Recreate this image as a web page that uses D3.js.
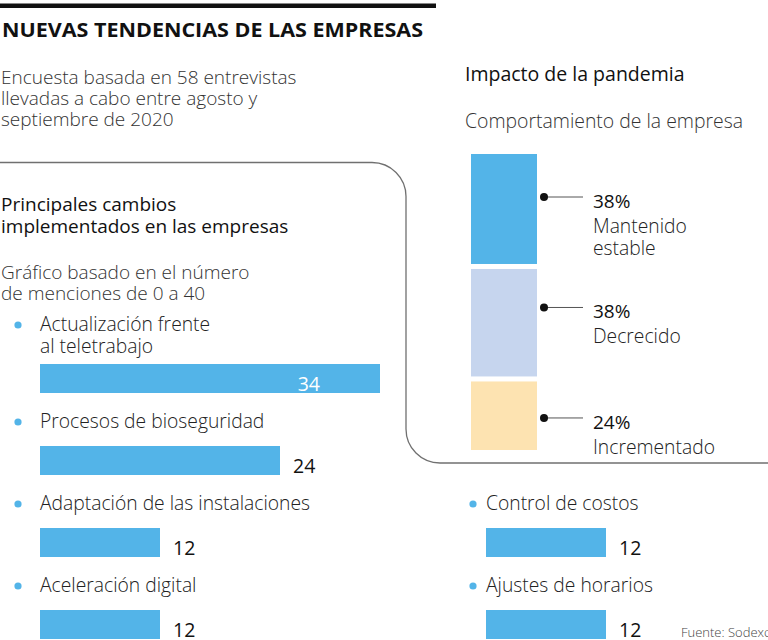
<!DOCTYPE html>
<html>
<head>
<meta charset="utf-8">
<style>
  body { margin: 0; background: #fff; }
  svg { display: block; font-family: "Open Sans", sans-serif; }
</style>
</head>
<body>
<div id="container"></div>
<script src="https://cdn.jsdelivr.net/npm/d3@7"></script>
<script>
// Principales cambios implementados (número de menciones, 0 a 40)
const cambios = [
  "Actualización frente\nal teletrabajo",
  "Procesos de bioseguridad",
  "Adaptación de las instalaciones",
  "Aceleración digital",
  "Control de costos",
  "Ajustes de horarios"
];
const menciones = [34, 24, 12, 12, 12, 12];

// Impacto de la pandemia: comportamiento de la empresa (%)
const comportamiento = ["Mantenido\nestable", "Decrecido", "Incrementado"];
const porcentajes = [38, 38, 24];
const coloresComp = ["#53b4e8", "#c6d5ee", "#fde3b1"];

const blue = "#53b4e8";
const ink = "#1a1a1a";

const svg = d3.select("#container")
  .append("svg")
  .attr("width", 768)
  .attr("height", 640);

// top rule + title
svg.append("rect")
  .attr("x", 0).attr("y", 3.5)
  .attr("width", 436).attr("height", 4.5)
  .attr("fill", "#111");

svg.append("text")
  .attr("x", 2).attr("y", 37)
  .attr("font-size", 20).attr("font-weight", 700)
  .attr("fill", "#111")
  .attr("textLength", 421).attr("lengthAdjust", "spacingAndGlyphs")
  .text("NUEVAS TENDENCIAS DE LAS EMPRESAS");

// helper for multi line text
function lines(g, str, x, y, lh, opts) {
  const t = g.append("text")
    .attr("x", x).attr("y", y)
    .attr("font-size", opts.size || 19)
    .attr("font-weight", opts.weight || 300)
    .attr("fill", opts.fill || ink);
  str.split("\n").forEach((s, i) => {
    t.append("tspan").attr("x", x).attr("dy", i ? lh : 0).text(s);
  });
  return t;
}

lines(svg, "Encuesta basada en 58 entrevistas\nllevadas a cabo entre agosto y\nseptiembre de 2020",
  1, 84, 21, { size: 19, weight: 300, fill: "#333" });

// frame line
svg.append("path")
  .attr("d", "M0,162.5 H372 A34,34 0 0 1 406,196.5 V429 A34,34 0 0 0 440,463 H768")
  .attr("fill", "none")
  .attr("stroke", "#707070")
  .attr("stroke-width", 1.3);

// left section heading
lines(svg, "Principales cambios\nimplementados en las empresas", 1, 211, 21.5, { size: 19, weight: 400, fill: "#111" });
lines(svg, "Gráfico basado en el número\nde menciones de 0 a 40", 1, 279, 20.5, { size: 19, weight: 300, fill: "#333" });

// bars
const x = d3.scaleLinear().domain([0, 40]).range([0, 400]);
const rowY = d3.scaleLinear().domain([0, 3]).range([364, 610]);
const colX = [40, 486];
const barH = 29;

const items = cambios.map((c, i) => ({
  label: c,
  value: menciones[i],
  col: i < 4 ? 0 : 1,
  row: i < 4 ? i : i - 2
}));

const item = svg.append("g").selectAll("g")
  .data(items)
  .join("g");

item.append("rect")
  .attr("x", d => colX[d.col])
  .attr("y", d => rowY(d.row))
  .attr("width", d => x(d.value))
  .attr("height", barH)
  .attr("fill", blue);

item.each(function(d) {
  const g = d3.select(this);
  const parts = d.label.split("\n");
  const last = rowY(d.row) - (parts.length > 1 ? 11 : 18);
  const first = last - 22 * (parts.length - 1);
  lines(g, d.label, colX[d.col], first, 22, { size: 19.3, weight: 300, fill: "#222" });
  g.append("circle")
    .attr("cx", colX[d.col] - 22 + (d.col ? 9 : 0))
    .attr("cy", first - 6)
    .attr("r", 3.6)
    .attr("fill", blue);

  const end = colX[d.col] + x(d.value);
  const inside = d.value === d3.max(menciones);
  g.append("text")
    .attr("x", inside ? end - 60 : end + 13)
    .attr("y", rowY(d.row) + 27)
    .attr("text-anchor", inside ? "end" : "start")
    .attr("font-size", 19.5)
    .attr("font-weight", 400)
    .attr("fill", inside ? "#fff" : "#111")
    .text(d.value);
});

// right: impacto de la pandemia
lines(svg, "Impacto de la pandemia", 465, 81, 22, { size: 19.5, weight: 400, fill: "#111" });
lines(svg, "Comportamiento de la empresa", 465, 128, 22, { size: 19.4, weight: 300, fill: "#333" });

const y = d3.scaleLinear().domain([0, 100]).range([154, 450]);
const gap = 2.5;
let acc = 0;
const segs = porcentajes.map((p, i) => {
  const s = { label: comportamiento[i], value: p, color: coloresComp[i], y0: acc, y1: acc + p };
  acc += p;
  return s;
});

const seg = svg.append("g").selectAll("g")
  .data(segs)
  .join("g");

seg.append("rect")
  .attr("x", 471)
  .attr("width", 66)
  .attr("y", (d, i) => y(d.y0) + (i ? gap : 0))
  .attr("height", (d, i) => y(d.y1) - y(d.y0) - (i ? gap : 0) - (i < segs.length - 1 ? gap : 0))
  .attr("fill", d => d.color);

seg.each(function(d, i) {
  const g = d3.select(this);
  const cy = y(d.y0) + 43 - i * 2;
  g.append("line")
    .attr("x1", 544).attr("x2", 583)
    .attr("y1", cy).attr("y2", cy)
    .attr("stroke", "#555").attr("stroke-width", 1);
  g.append("circle")
    .attr("cx", 544).attr("cy", cy).attr("r", 4)
    .attr("fill", "#111");
  g.append("text")
    .attr("x", 593).attr("y", cy + 11)
    .attr("font-size", 19).attr("font-weight", 400)
    .attr("fill", "#111")
    .text(d.value + "%");
  lines(g, d.label, 593, cy + 36, 22, { size: 19.3, weight: 300, fill: "#222" });
});

// source
svg.append("text")
  .attr("x", 681).attr("y", 637)
  .attr("font-size", 13).attr("font-weight", 300)
  .attr("fill", "#444")
  .text("Fuente: Sodexo");
</script>
</body>
</html>
